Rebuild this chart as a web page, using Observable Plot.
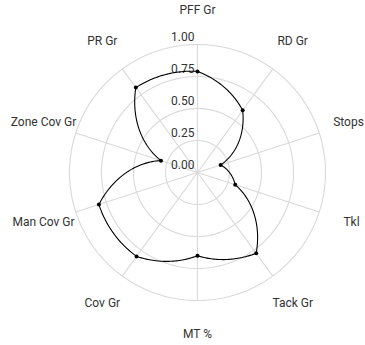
<!DOCTYPE html>
<html>
<head>
<meta charset="utf-8">
<script src="https://cdn.jsdelivr.net/npm/d3@7"></script>
<script src="https://cdn.jsdelivr.net/npm/@observablehq/plot@0.6"></script>
<style>
  html, body { margin: 0; padding: 0; background: #fff; }
  svg { display: block; }
</style>
</head>
<body>
<div id="chart"></div>
<script>
const axesNames = ["PFF Gr", "RD Gr", "Stops", "Tkl", "Tack Gr", "MT %", "Cov Gr", "Man Cov Gr", "Zone Cov Gr", "PR Gr"];
const values = [0.79, 0.60, 0.19, 0.31, 0.78, 0.65, 0.81, 0.81, 0.30, 0.82];
const tickValues = [0, 0.25, 0.5, 0.75, 1];
const tickLabels = ["0.00", "0.25", "0.50", "0.75", "1.00"];

const W = 365, H = 345, CX = 197, CY = 172, R = 128;
const n = axesNames.length;
const ang = i => i * 2 * Math.PI / n;

// polar-interpolating closed curve (lines drawn like coord_polar)
function polarClosed(context) {
  let pts = [];
  return {
    areaStart() {}, areaEnd() {},
    lineStart() { pts = []; },
    point(x, y) { pts.push([+x, +y]); },
    lineEnd() {
      if (!pts.length) return;
      const pol = pts.map(([x, y]) => [Math.atan2(x - CX, CY - y), Math.hypot(x - CX, y - CY)]);
      context.moveTo(pts[0][0], pts[0][1]);
      for (let i = 0; i < pol.length; i++) {
        const a = pol[i], b = pol[(i + 1) % pol.length];
        let da = b[0] - a[0];
        while (da > Math.PI) da -= 2 * Math.PI;
        while (da < -Math.PI) da += 2 * Math.PI;
        const steps = 40;
        for (let s = 1; s <= steps; s++) {
          const t = s / steps;
          const th = a[0] + da * t, r = a[1] + (b[1] - a[1]) * t;
          context.lineTo(CX + r * Math.sin(th), CY - r * Math.cos(th));
        }
      }
      context.closePath();
    }
  };
}

const pts = axesNames.map((name, i) => ({name, v: values[i], x: values[i] * Math.sin(ang(i)), y: values[i] * Math.cos(ang(i))}));
const spokes = axesNames.map((name, i) => ({x: Math.sin(ang(i)), y: Math.cos(ang(i))}));
const labels = axesNames.map((name, i) => ({name, x: 1.265 * Math.sin(ang(i)), y: 1.265 * Math.cos(ang(i))}));
const circles = [];
tickValues.filter(t => t > 0).forEach(t => {
  d3.range(0, 360, 2).forEach(d => circles.push({t, x: t * Math.sin(d * Math.PI / 180), y: t * Math.cos(d * Math.PI / 180)}));
});
const tickData = tickValues.map((t, i) => ({t, label: tickLabels[i]}));

const chart = Plot.plot({
  width: W, height: H, margin: 0,
  x: {domain: [-CX / R, (W - CX) / R], axis: null},
  y: {domain: [-(H - CY) / R, CY / R], axis: null},
  style: {fontFamily: "Roboto, sans-serif", fontSize: "12px", background: "#fff", color: "#333"},
  marks: [
    Plot.line(circles, {x: "x", y: "y", z: "t", curve: "linear-closed", stroke: "#d9d9d9", strokeWidth: 1.1}),
    Plot.link(spokes, {x1: 0, y1: 0, x2: "x", y2: "y", stroke: "#d9d9d9", strokeWidth: 1.1}),
    Plot.text(tickData, {x: 0, y: "t", text: "label", textAnchor: "end", dx: -3, dy: -7, fill: "#333"}),
    Plot.line(pts, {x: "x", y: "y", curve: polarClosed, stroke: "#000", strokeWidth: 1.1}),
    Plot.dot(pts, {x: "x", y: "y", r: 2, fill: "#000"}),
    Plot.text(labels.filter(d => d.name !== "Stops"), {x: "x", y: "y", text: "name", textAnchor: "middle", fill: "#333"}),
    Plot.text(labels.filter(d => d.name === "Stops"), {x: "x", y: "y", text: "name", textAnchor: "middle", dx: -3, fill: "#333"})
  ]
});
document.getElementById("chart").appendChild(chart);
</script>
</body>
</html>
